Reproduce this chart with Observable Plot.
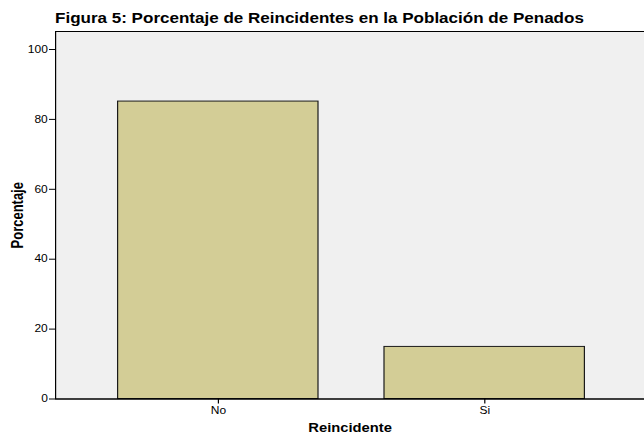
<!DOCTYPE html>
<html>
<head>
<meta charset="utf-8">
<script src="https://cdn.jsdelivr.net/npm/d3@7"></script>
<script src="https://cdn.jsdelivr.net/npm/@observablehq/plot@0.6"></script>
<style>
  html, body { margin: 0; padding: 0; background: #ffffff; }
  body { width: 644px; height: 435px; overflow: hidden; font-family: "Liberation Sans", Arial, sans-serif; }
  #title { height: 26px; box-sizing: border-box; padding-left: 55px; padding-top: 9px; white-space: nowrap; }
  #title span { display: inline-block; font-size: 14.2px; font-weight: bold; line-height: 16px; color: #000; transform: scaleX(1.2); transform-origin: 0 50%; }
  svg { display: block; }
</style>
</head>
<body>
<div id="title"><span>Figura 5: Porcentaje de Reincidentes en la Población de Penados</span></div>
<div id="chart"></div>
<script>
const categories = ["No", "Si"];
const percentages = [85.1, 14.9];
const yTicks = [0, 20, 40, 60, 80, 100];

const data = categories.map((c, i) => ({ cat: c, pct: percentages[i] }));

// The reference is horizontally stretched; build in unstretched units and scale the SVG.
const S = 1.2;
const W = 644 / S;
const left = 55 / S;
const rightEnd = 647.5 / S;

const chart = Plot.plot({
  width: W,
  height: 409,
  marginLeft: left,
  marginRight: 0,
  marginTop: 5,
  marginBottom: 36.5,
  style: { fontFamily: "'Liberation Sans', Arial, sans-serif", color: "#000", background: "#fff", overflow: "hidden" },
  x: { type: "band", domain: categories, range: [left, rightEnd], paddingInner: 0.25, paddingOuter: 0.236 },
  y: { domain: [0, 105.15] },
  marks: [
    Plot.frame({ fill: "#f0f0f0", stroke: "none" }),
    Plot.barY(data, { x: "cat", y: "pct", fill: "#d3cd96", stroke: "#1a1a1a", strokeWidth: 1 }),
    Plot.ruleY([0], { stroke: "#000", strokeWidth: 1 }),
    Plot.frame({ stroke: "#000", strokeWidth: 1, fill: "none", insetRight: -3 }),
    Plot.axisY({ ticks: yTicks, tickSize: 5, tickPadding: 1.5, fontSize: 10, label: null, stroke: "#000" }),
    Plot.axisY({ ticks: [], label: "Porcentaje", labelAnchor: "center", labelArrow: "none", labelOffset: 36, fontSize: 13, fontWeight: "bold" }),
    Plot.axisX({ tickSize: 5, tickPadding: 3, fontSize: 10, label: null, stroke: "#000" }),
    Plot.axisX({ ticks: [], label: "Reincidente", labelAnchor: "center", labelArrow: "none", labelOffset: 33, fontSize: 12.3, fontWeight: "bold" })
  ]
});
chart.setAttribute("width", 644);
chart.setAttribute("height", 409);
chart.setAttribute("preserveAspectRatio", "none");
chart.style.width = "644px";
chart.style.height = "409px";
chart.style.maxWidth = "none";
document.getElementById("chart").appendChild(chart);
</script>
</body>
</html>
